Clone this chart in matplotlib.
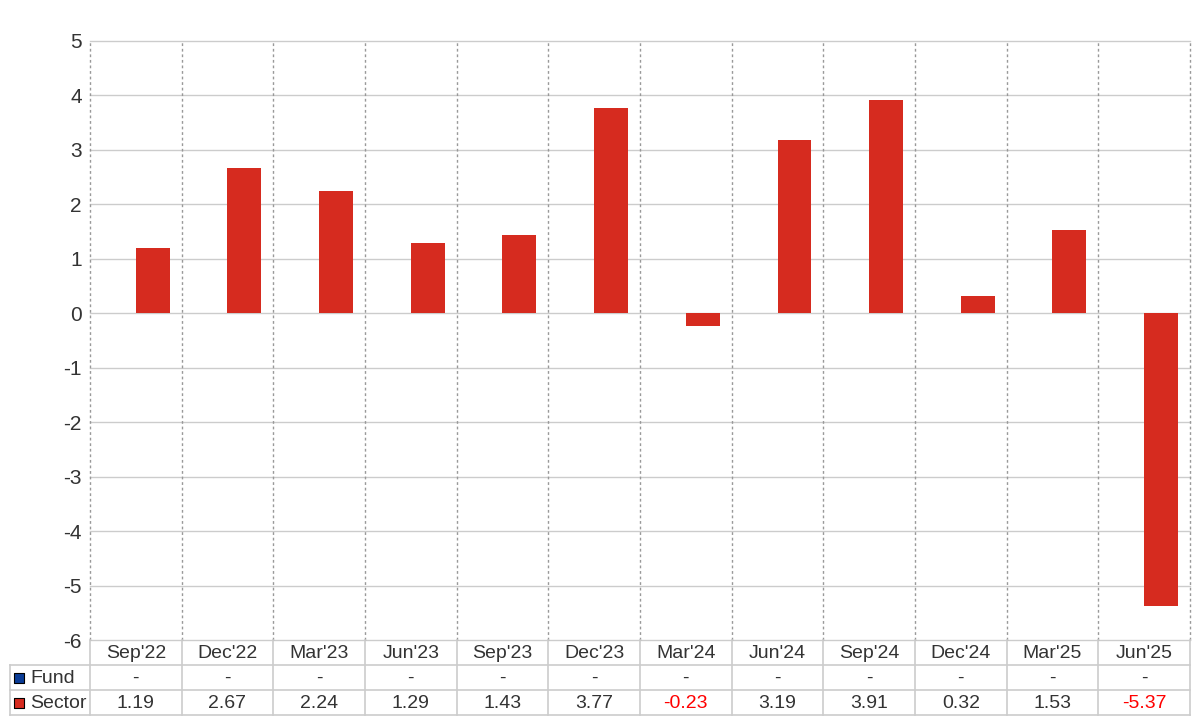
import numpy as np
import matplotlib.pyplot as plt

plt.rcParams['font.family'] = ['Liberation Sans', 'DejaVu Sans']

# Quarterly data
quarters = ["Sep'22", "Dec'22", "Mar'23", "Jun'23", "Sep'23", "Dec'23",
            "Mar'24", "Jun'24", "Sep'24", "Dec'24", "Mar'25", "Jun'25"]
fund = [np.nan] * 12
sector = [1.19, 2.67, 2.24, 1.29, 1.43, 3.77, -0.23, 3.19, 3.91, 0.32, 1.53, -5.37]
yticks = [5, 4, 3, 2, 1, 0, -1, -2, -3, -4, -5, -6]

fund_color = "#0a3c96"
sector_color = "#d62b1f"
grid_color = "#cccccc"
text_color = "#333333"

W, H = 1200, 720
fig = plt.figure(figsize=(12, 7.2), dpi=100)

# main plot area (pixel box 90..1190, 41..640)
ax = fig.add_axes([90 / W, 1 - 640 / H, 1100 / W, 599 / H])
x = np.arange(len(quarters))
bw = 0.37
ax.bar(x - bw / 2, fund, width=bw, color=fund_color)
ax.bar(x + bw / 2, sector, width=bw, color=sector_color, zorder=3)

ax.set_xlim(-0.5, len(quarters) - 0.5)
ax.set_ylim(-6, 5)
ax.set_yticks(yticks)
ax.set_yticklabels([str(v) for v in yticks], fontsize=15, color=text_color)
ax.tick_params(axis="y", length=0, pad=6)
ax.set_xticks([])
for s in ax.spines.values():
    s.set_visible(False)
for v in yticks:
    ax.axhline(v, color=grid_color, lw=1, zorder=1, clip_on=False)
for b in np.arange(-0.5, len(quarters), 1):
    ax.axvline(b, color="#999999", lw=1, ls=(0, (2, 2)), zorder=1, clip_on=False)

# table below the plot (pixel box 10..1190, 640..715)
unit = 1100 / len(quarters)
left_units = 80 / unit
tx = fig.add_axes([10 / W, 1 - 715 / H, 1180 / W, 75 / H])
tx.set_xlim(-0.5 - left_units, len(quarters) - 0.5)
tx.set_ylim(0, 3)
tx.axis("off")

xl = -0.5 - left_units
xr = len(quarters) - 0.5
for yy in [0, 1, 2]:
    tx.plot([xl, xr], [yy, yy], color=grid_color, lw=1.2, clip_on=False)
tx.plot([xl, xl], [0, 2], color=grid_color, lw=1.2, clip_on=False)
for b in np.arange(-0.5, len(quarters), 1):
    tx.plot([b, b], [0, 3], color=grid_color, lw=1.2, clip_on=False)

fs = 14
for i, q in enumerate(quarters):
    tx.text(i, 2.45, q, ha="center", va="center", fontsize=fs, color=text_color)
    fv = fund[i]
    tx.text(i, 1.45, "-" if np.isnan(fv) else f"{fv:.2f}", ha="center", va="center",
            fontsize=fs, color=text_color)
    sv = sector[i]
    tx.text(i, 0.45, f"{sv:.2f}", ha="center", va="center", fontsize=fs,
            color="#ff0000" if sv < 0 else text_color)

for row, name, col in [(1.5, "Fund", fund_color), (0.5, "Sector", sector_color)]:
    tx.scatter([xl + 0.1], [row], marker="s", s=45, color=col, edgecolor="black",
               linewidth=0.8, clip_on=False)
    tx.text(xl + 0.22, row - 0.05, name, ha="left", va="center", fontsize=fs,
            color=text_color)

fig.savefig("out.png", dpi=100)
